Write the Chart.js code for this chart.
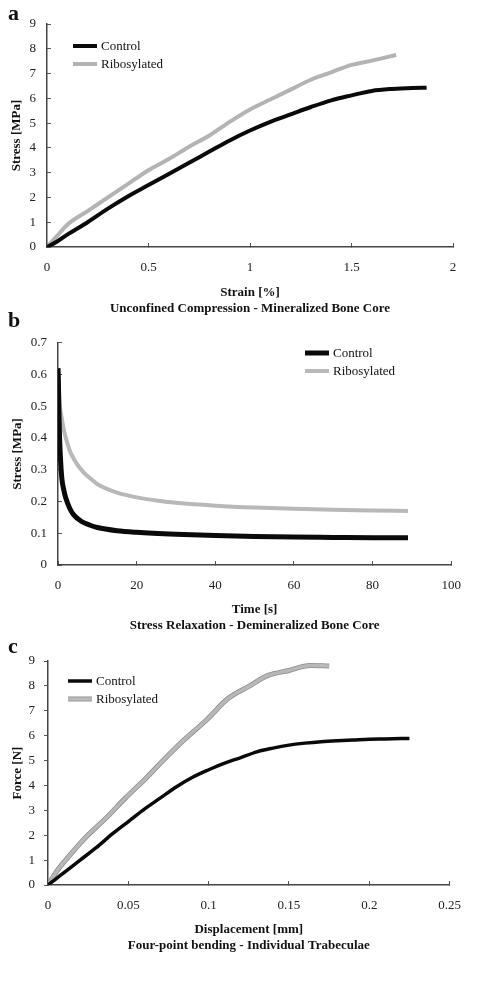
<!DOCTYPE html>
<html>
<head>
<meta charset="utf-8">
<script src="https://cdn.jsdelivr.net/npm/chart.js@4.4.1/dist/chart.umd.min.js"></script>
<style>
  body { margin: 0; background: #fff; width: 478px; height: 992px; position: relative; overflow: hidden; }
  canvas { position: absolute; left: 0; }
  .tag { position: absolute; left: 8px; font: bold 22px "Liberation Serif", serif; line-height: 22px; color: #111; z-index: 2; }
</style>
</head>
<body>
<div class="tag" style="top:2px">a</div>
<div class="tag" style="top:309px">b</div>
<div class="tag" style="top:635px">c</div>
<canvas id="chartA" width="478" height="320" style="top:0"></canvas>
<canvas id="chartB" width="478" height="320" style="top:320px"></canvas>
<canvas id="chartC" width="478" height="320" style="top:640px"></canvas>
<script>
// a - unconfined compression
const aCtrlStrain = [0, 0.05, 0.1, 0.2, 0.3, 0.4, 0.5, 0.6, 0.7, 0.8, 0.9, 1.0, 1.1, 1.2, 1.3, 1.4, 1.5, 1.6, 1.7, 1.8, 1.87];
const aCtrlStress = [0, 0.22, 0.5, 1.0, 1.55, 2.05, 2.5, 2.95, 3.4, 3.85, 4.3, 4.7, 5.05, 5.35, 5.65, 5.92, 6.12, 6.3, 6.38, 6.42, 6.43];
const aRiboStrain = [0, 0.05, 0.1, 0.2, 0.3, 0.4, 0.5, 0.6, 0.7, 0.8, 0.9, 1.0, 1.1, 1.2, 1.3, 1.4, 1.5, 1.6, 1.72];
const aRiboStress = [0, 0.45, 0.9, 1.45, 2.0, 2.55, 3.1, 3.55, 4.05, 4.5, 5.05, 5.55, 5.95, 6.35, 6.75, 7.05, 7.35, 7.52, 7.75];

// b - stress relaxation
const bCtrlTime = [0, 0.1, 0.2, 0.4, 0.7, 1, 1.5, 2, 3, 4, 6, 8, 10, 15, 20, 30, 40, 50, 60, 70, 80, 89];
const bCtrlStress = [0.62, 0.58, 0.5, 0.4, 0.32, 0.27, 0.235, 0.21, 0.178, 0.158, 0.137, 0.126, 0.118, 0.108, 0.103, 0.097, 0.093, 0.09, 0.088, 0.087, 0.086, 0.086];
const bRiboTime = [0, 0.2, 0.5, 1, 1.5, 2, 3, 4, 5, 6.5, 8, 10, 12, 15, 20, 25, 30, 40, 50, 60, 70, 80, 89];
const bRiboStress = [0.61, 0.56, 0.5, 0.46, 0.425, 0.4, 0.36, 0.335, 0.315, 0.292, 0.275, 0.255, 0.242, 0.228, 0.213, 0.203, 0.196, 0.187, 0.181, 0.177, 0.174, 0.172, 0.17];

// c - four-point bending
const cCtrlDisp = [0, 0.005, 0.01, 0.02, 0.03, 0.04, 0.05, 0.06, 0.07, 0.08, 0.09, 0.1, 0.11, 0.12, 0.13, 0.14, 0.15, 0.16, 0.17, 0.18, 0.19, 0.2, 0.21, 0.225];
const cCtrlForce = [0, 0.25, 0.5, 1.0, 1.5, 2.05, 2.55, 3.05, 3.5, 3.95, 4.33, 4.63, 4.9, 5.12, 5.35, 5.5, 5.62, 5.7, 5.76, 5.8, 5.83, 5.86, 5.87, 5.89];
const cRiboDisp = [0, 0.006, 0.012, 0.024, 0.036, 0.048, 0.061, 0.073, 0.085, 0.099, 0.112, 0.125, 0.137, 0.15, 0.163, 0.175];
const cRiboForce = [0, 0.6, 1.08, 1.95, 2.68, 3.48, 4.29, 5.09, 5.85, 6.65, 7.49, 7.98, 8.42, 8.62, 8.82, 8.8];

const seriesNames = ['Control', 'Ribosylated'];

const FONT = '"Liberation Serif", "Times New Roman", serif';
const zip = (xs, ys) => xs.map((x, i) => ({ x: x, y: ys[i] }));
const tickFmt = v => String(parseFloat(Number(v).toFixed(4)));

// legend drawn on the canvas, stacked vertically like the original
const stackLegend = {
  id: 'stackLegend',
  afterDatasetsDraw(chart, args, opts) {
    const ctx = chart.ctx;
    ctx.save();
    ctx.font = '13px ' + FONT;
    ctx.textBaseline = 'middle';
    chart.data.datasets.filter(ds => ds.label).forEach((ds, i) => {
      const y = opts.y + i * 18;
      if (ds.outline) {
        ctx.strokeStyle = ds.outline;
        ctx.lineWidth = ds.borderWidth + 1.5;
        ctx.beginPath(); ctx.moveTo(opts.x, y); ctx.lineTo(opts.x + 24, y); ctx.stroke();
      }
      ctx.strokeStyle = ds.borderColor;
      ctx.lineWidth = ds.borderWidth;
      ctx.beginPath();
      ctx.moveTo(opts.x, y);
      ctx.lineTo(opts.x + 24, y);
      ctx.stroke();
      ctx.fillStyle = '#111';
      ctx.fillText(ds.label, opts.x + 28, y + 1);
    });
    ctx.restore();
  }
};

function makeChart(id, cfg) {
  const sets = [
    { label: seriesNames[0], data: cfg.ctrl, borderColor: '#0a0a0a', borderWidth: cfg.ctrlW, pointRadius: 0, cubicInterpolationMode: 'monotone', order: 0 },
    { label: seriesNames[1], data: cfg.ribo, borderColor: cfg.riboColor, borderWidth: cfg.riboW, pointRadius: 0, cubicInterpolationMode: 'monotone', order: 1, outline: cfg.riboOutline }
  ];
  if (cfg.riboOutline) {
    // darker edge under the grey curve
    sets.push({ label: '', data: cfg.ribo, borderColor: cfg.riboOutline, borderWidth: cfg.riboW + 1.5, pointRadius: 0, cubicInterpolationMode: 'monotone', order: 2 });
  }
  new Chart(document.getElementById(id), {
    type: 'line',
    data: { datasets: sets },
    options: {
      responsive: false,
      animation: false,
      devicePixelRatio: 1,
      layout: { padding: { left: 0, right: 478 - cfg.right, top: cfg.top, bottom: 0 } },
      plugins: { legend: { display: false }, tooltip: { enabled: false }, stackLegend: cfg.legend },
      scales: {
        x: {
          type: 'linear',
          min: cfg.xMin, max: cfg.xMax,
          afterFit: s => { s.height = 320 - cfg.axisY; },
          ticks: { stepSize: cfg.xStep, color: '#222', font: { family: FONT, size: 13 }, padding: 17, maxRotation: 0, autoSkip: false, callback: tickFmt },
          grid: { drawOnChartArea: false, drawTicks: true, tickLength: -4, color: '#555', lineWidth: 1 },
          border: { color: '#444', width: 1.5 },
          title: { display: true, text: cfg.xTitle, color: '#111', font: { family: FONT, size: 13, weight: 'bold', lineHeight: 1.23 }, padding: { top: 0, bottom: cfg.titleBottom } }
        },
        y: {
          min: 0, max: cfg.yMax,
          afterFit: s => { s.width = cfg.left; },
          ticks: { stepSize: cfg.yStep, color: '#222', font: { family: FONT, size: 13 }, padding: cfg.yPad, callback: tickFmt },
          grid: { drawOnChartArea: false, drawTicks: true, tickLength: cfg.yTick, color: '#555', lineWidth: 1 },
          border: { color: '#444', width: 1.5 },
          title: { display: true, text: cfg.yTitle, color: '#111', font: { family: FONT, size: 13, weight: 'bold' }, padding: { top: cfg.yTitlePad, bottom: 0 } }
        }
      }
    },
    plugins: [stackLegend]
  });
}

makeChart('chartA', {
  ctrl: zip(aCtrlStrain, aCtrlStress), ribo: zip(aRiboStrain, aRiboStress),
  ctrlW: 4, riboW: 4, riboColor: '#b3b3b3',
  left: 47, right: 453, top: 24, axisY: 247, titleBottom: 3,
  xMin: 0, xMax: 2, xStep: 0.5, yMax: 9, yStep: 1, yPad: 15, yTick: -4, yTitlePad: 9,
  xTitle: ['Strain [%]', 'Unconfined Compression - Mineralized Bone Core'], yTitle: 'Stress [MPa]',
  legend: { x: 73, y: 46 }
});

makeChart('chartB', {
  ctrl: zip(bCtrlTime, bCtrlStress), ribo: zip(bRiboTime, bRiboStress),
  ctrlW: 5, riboW: 4, riboColor: '#b8b8b8',
  left: 58, right: 452, top: 22, axisY: 245, titleBottom: 6,
  xMin: 0, xMax: 100, xStep: 20, yMax: 0.7, yStep: 0.1, yPad: 15, yTick: -4, yTitlePad: 10,
  xTitle: ['Time [s]', 'Stress Relaxation - Demineralized Bone Core'], yTitle: 'Stress [MPa]',
  legend: { x: 305, y: 33 }
});

makeChart('chartC', {
  ctrl: zip(cCtrlDisp, cCtrlForce), ribo: zip(cRiboDisp, cRiboForce),
  ctrlW: 3.5, riboW: 3.5, riboColor: '#b8b8b8', riboOutline: '#8c8c8c',
  left: 48, right: 451, top: 21, axisY: 245, titleBottom: 6,
  xMin: 0, xMax: 0.25, xStep: 0.05, yMax: 9, yStep: 1, yPad: 9, yTick: 4, yTitlePad: 10,
  xTitle: ['Displacement [mm]', 'Four-point bending - Individual Trabeculae'], yTitle: 'Force [N]',
  legend: { x: 68, y: 41 }
});
</script>
</body>
</html>
